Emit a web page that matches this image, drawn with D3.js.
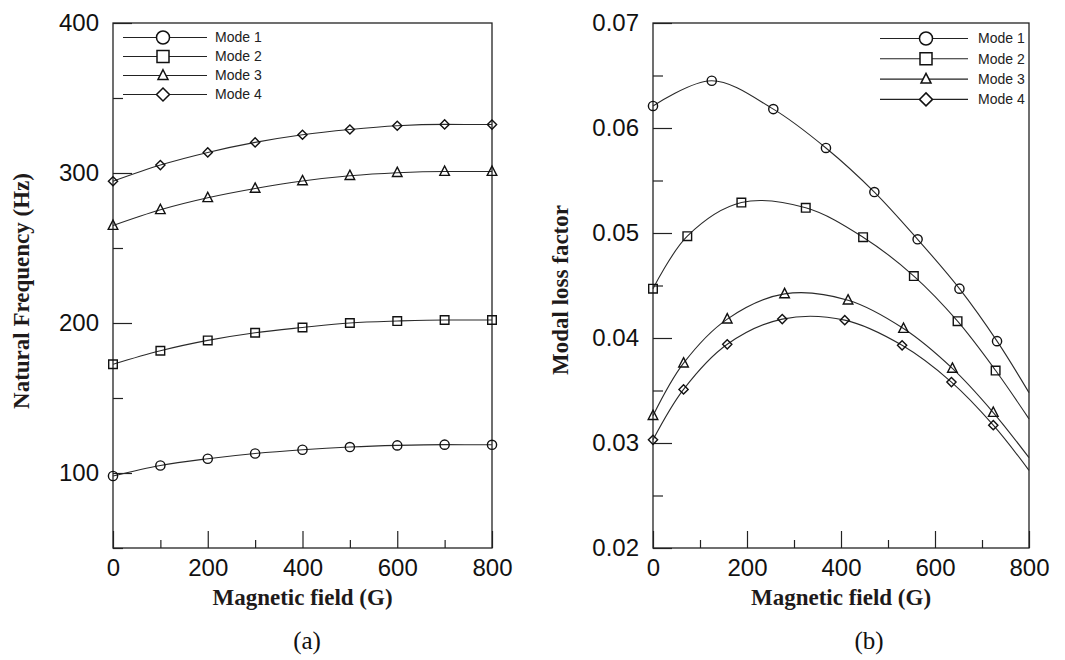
<!DOCTYPE html>
<html>
<head>
<meta charset="utf-8">
<script src="https://cdn.jsdelivr.net/npm/d3@7"></script>
<style>
  body { margin: 0; background: #fff; }
  svg text { font-family: 'Liberation Sans', Arial, sans-serif; fill: #111; }
  .tickText { font-size: 24px; }
  .legendText { font-size: 14px; fill: #222; }
  .axisTitle { font-family: 'Liberation Serif', 'Times New Roman', serif; font-weight: bold; font-size: 23px; fill: #1e1a1a; }
  .panelLabel { font-family: 'Liberation Serif', 'Times New Roman', serif; font-size: 25px; }
</style>
</head>
<body>
<svg id="figure" width="1065" height="660"></svg>
<script>

// shared
const modeNames = ['Mode 1', 'Mode 2', 'Mode 3', 'Mode 4'];
const modeSymbols = ['circle', 'square', 'triangle', 'diamond'];
const fieldTicks = [0, 200, 400, 600, 800];
const fieldMinorTicks = [100, 300, 500, 700];

// (a) natural frequency (Hz), every 100 G
const freqField = [0, 100, 200, 300, 400, 500, 600, 700, 800];
const freqMode1 = [98, 105, 109.5, 113, 115.5, 117.3, 118.4, 118.9, 118.8];
const freqMode2 = [172.5, 181.5, 188.4, 193.5, 197, 200, 201.3, 202, 202];
const freqMode3 = [265, 275.5, 283.5, 289.7, 294.7, 298.2, 300.2, 301, 301];
const freqMode4 = [294.5, 305.3, 313.7, 320.4, 325.5, 329, 331.5, 332.4, 332.3];
const freqTicks = [100, 200, 300, 400];
const freqMinorTicks = [50, 150, 250, 350];

// (b) modal loss factor, markers sit at different fields per mode
const lossField1 = [0, 125, 256, 368, 471, 563, 652, 732];
const lossMode1 = [0.0621, 0.0645, 0.0618, 0.0581, 0.0539, 0.0494, 0.0447, 0.0397];
const lossField2 = [0, 73, 188, 325, 447, 555, 648, 729];
const lossMode2 = [0.0447, 0.0497, 0.0529, 0.0524, 0.0496, 0.0459, 0.0416, 0.0369];
const lossField3 = [0, 65, 158, 280, 415, 533, 637, 724];
const lossMode3 = [0.0326, 0.0376, 0.0418, 0.0442, 0.0436, 0.0409, 0.0371, 0.0329];
const lossField4 = [0, 65, 158, 275, 408, 530, 635, 724];
const lossMode4 = [0.0303, 0.0351, 0.0394, 0.0418, 0.0417, 0.0393, 0.0358, 0.0317];
// fitted curves carry on to 800 G without a marker
const lossEnd = [0.0348, 0.0323, 0.0286, 0.0274];
const lossTicks = [0.02, 0.03, 0.04, 0.05, 0.06, 0.07];
const lossMinorTicks = [0.025, 0.035, 0.045, 0.055, 0.065];


function markerPath(type, r) {
  if (type === 'circle') return `M${-r},0A${r},${r} 0 1,0 ${r},0A${r},${r} 0 1,0 ${-r},0Z`;
  if (type === 'square') return `M${-r},${-r}H${r}V${r}H${-r}Z`;
  if (type === 'triangle') return `M0,${-r * 1.15}L${r},${r * 0.8}L${-r},${r * 0.8}Z`;
  return `M0,${-r}L${r},0L0,${r}L${-r},0Z`;
}

LineChart = {

  frame: {top: 23, bottom: 548},
  markerSize: {circle: 4.6, square: 4.3, triangle: 4.8, diamond: 4.6},
  legendMarkerSize: {circle: 6.5, square: 6, triangle: 5, diamond: 6.5},

  loadChart: function(cfg) {
    this.cfg = cfg;
    this.g = d3.select('#figure').append('g');
    this.createScales();
    this.drawAxes();
    this.drawSeries();
    this.drawLegend();
    this.drawTitles();
  },

  createScales: function() {
    this.x = d3.scaleLinear().domain([0, 800]).range([this.cfg.left, this.cfg.right]);
    this.y = d3.scaleLinear().domain(this.cfg.yDomain).range([this.frame.bottom, this.frame.top]);
  },

  drawAxes: function() {
    const c = this.cfg;
    const h = this.frame.bottom;

    this.g.append('g')
      .attr('transform', `translate(${c.left},0)`)
      .call(d3.axisLeft(this.y).tickValues(c.yTicks).tickFormat(c.yFormat)
        .tickSize(-19).tickPadding(14).tickSizeOuter(0))
      .call(a => a.select('.domain').remove());
    this.g.append('g')
      .attr('transform', `translate(${c.left},0)`)
      .call(d3.axisLeft(this.y).tickValues(c.yMinor).tickFormat('').tickSize(-10).tickSizeOuter(0))
      .call(a => a.select('.domain').remove());

    this.g.append('g')
      .attr('transform', `translate(0,${h})`)
      .call(d3.axisBottom(this.x).tickValues(fieldTicks).tickFormat(d3.format('d'))
        .tickSize(-17).tickPadding(11).tickSizeOuter(0))
      .call(a => a.select('.domain').remove());
    this.g.append('g')
      .attr('transform', `translate(0,${h})`)
      .call(d3.axisBottom(this.x).tickValues(fieldMinorTicks).tickFormat('').tickSize(-8).tickSizeOuter(0))
      .call(a => a.select('.domain').remove());

    this.g.selectAll('.tick line').attr('stroke', '#222').attr('stroke-width', 1.2);
    this.g.selectAll('.tick text').attr('class', 'tickText');

    this.g.append('rect')
      .attr('x', c.left)
      .attr('y', this.frame.top)
      .attr('width', c.right - c.left)
      .attr('height', h - this.frame.top)
      .attr('fill', 'none')
      .attr('stroke', '#222')
      .attr('stroke-width', 1.3);
  },

  drawSeries: function() {
    const line = d3.line()
      .x(d => this.x(d[0]))
      .y(d => this.y(d[1]))
      .curve(this.cfg.curve);

    this.cfg.series.forEach((s, i) => {
      this.g.append('path')
        .attr('d', line(s.curve))
        .attr('fill', 'none')
        .attr('stroke', '#2a2a2a')
        .attr('stroke-width', 1.1);

      const sym = modeSymbols[i];
      this.g.selectAll(null)
        .data(s.points)
        .enter()
        .append('path')
        .attr('d', markerPath(sym, this.markerSize[sym]))
        .attr('transform', d => `translate(${this.x(d[0])},${this.y(d[1])})`)
        .attr('fill', 'none')
        .attr('stroke', '#111')
        .attr('stroke-width', 1.4);
    });
  },

  drawLegend: function() {
    const L = this.cfg.legend;
    const items = this.g.selectAll('.legendItem')
      .data(modeNames)
      .enter()
      .append('g')
      .attr('class', 'legendItem')
      .attr('transform', (d, i) => `translate(0,${L.y + i * L.step})`);

    items.append('line')
      .attr('x1', L.x1).attr('x2', L.x2)
      .attr('stroke', '#222').attr('stroke-width', 1.1);
    items.append('path')
      .attr('d', (d, i) => markerPath(modeSymbols[i], this.legendMarkerSize[modeSymbols[i]]))
      .attr('transform', `translate(${L.mx},0)`)
      .attr('fill', '#fff')
      .attr('stroke', '#111')
      .attr('stroke-width', 1.5);
    items.append('text')
      .attr('class', 'legendText')
      .attr('x', L.tx)
      .attr('dy', '0.35em')
      .text(d => d);
  },

  drawTitles: function() {
    const c = this.cfg;
    const cx = (c.left + c.right) / 2;
    this.g.append('text')
      .attr('class', 'axisTitle')
      .attr('x', cx)
      .attr('y', 605)
      .attr('text-anchor', 'middle')
      .text('Magnetic field (G)');
    this.g.append('text')
      .attr('class', 'axisTitle')
      .attr('transform', `translate(${c.titleX},${c.titleY}) rotate(-90)`)
      .attr('text-anchor', 'middle')
      .attr('dy', '0.35em')
      .text(c.yTitle);
    this.g.append('text')
      .attr('class', 'panelLabel')
      .attr('x', c.panelX)
      .attr('y', 649)
      .attr('text-anchor', 'middle')
      .text(c.panel);
  },
}

const freqModes = [freqMode1, freqMode2, freqMode3, freqMode4];
const freqSeries = freqModes.map(vals => {
  const pts = freqField.map((f, j) => [f, vals[j]]);
  return {points: pts, curve: pts};
});

const lossFields = [lossField1, lossField2, lossField3, lossField4];
const lossModes = [lossMode1, lossMode2, lossMode3, lossMode4];
const lossSeries = lossModes.map((vals, i) => {
  const pts = lossFields[i].map((f, j) => [f, vals[j]]);
  return {points: pts, curve: pts.concat([[800, lossEnd[i]]])};
});

LineChart.loadChart({
  left: 113, right: 492,
  yDomain: [50, 400], yTicks: freqTicks, yMinor: freqMinorTicks, yFormat: d3.format('d'),
  curve: d3.curveMonotoneX,
  series: freqSeries,
  legend: {x1: 123, x2: 207, mx: 163, tx: 215, y: 37.5, step: 19},
  yTitle: 'Natural Frequency (Hz)', titleX: 21, titleY: 291,
  panel: '(a)', panelX: 307,
});

LineChart.loadChart({
  left: 653, right: 1029,
  yDomain: [0.02, 0.07], yTicks: lossTicks, yMinor: lossMinorTicks, yFormat: d3.format('.2f'),
  curve: d3.curveCatmullRom.alpha(0.5),
  series: lossSeries,
  legend: {x1: 880, x2: 968, mx: 926, tx: 978, y: 38.5, step: 20.3},
  yTitle: 'Modal loss factor', titleX: 560, titleY: 290,
  panel: '(b)', panelX: 869,
});

</script>
</body>
</html>
